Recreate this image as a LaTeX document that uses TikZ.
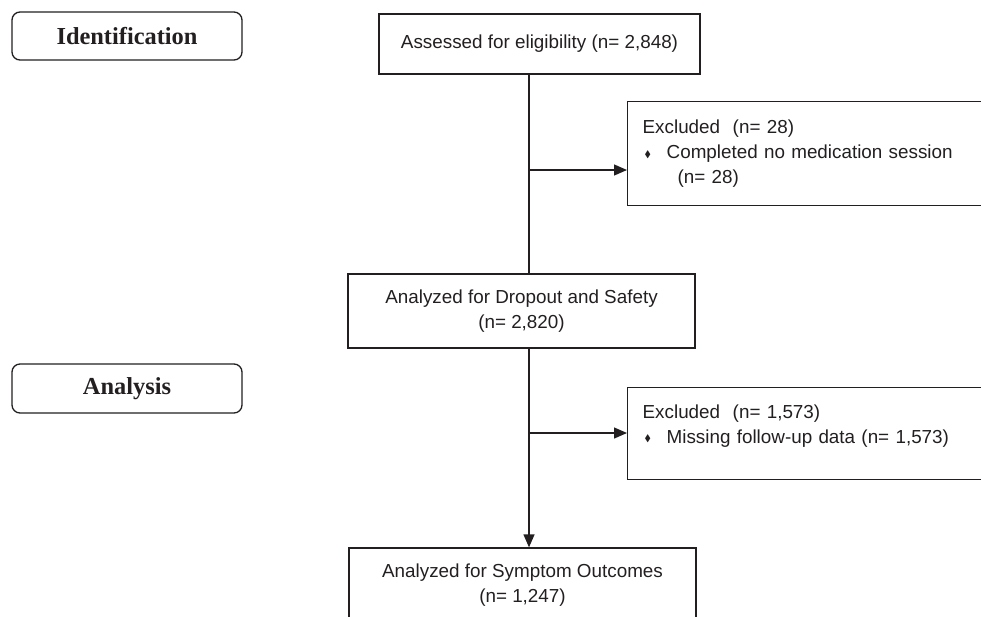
\documentclass[tikz,border=0pt]{standalone}
\usepackage{amsmath}
\usepackage{amssymb}
\usepackage{fontspec}
\setmainfont{Liberation Sans}
\newfontfamily\headfont{Liberation Serif}
\usetikzlibrary{arrows.meta}
\definecolor{ink}{RGB}{35,31,32}
\newcommand{\bul}{\makebox[24pt][l]{\hspace{2pt}\raisebox{1.5pt}{\fontsize{9.5}{9.5}\selectfont$\blacklozenge$}}}

\begin{document}
\begin{tikzpicture}[x=1pt,y=-1pt,ink,line width=1.3pt,
  stage/.style={draw,rounded corners=8pt,minimum width=230pt,minimum height=48pt,font=\headfont\bfseries\fontsize{24.4}{28}\selectfont},
  flow/.style={draw,minimum height=74pt,align=center,font=\fontsize{18.85}{25}\selectfont},
  side/.style={draw,anchor=north west,text width=353pt,inner xsep=15pt,align=left,font=\fontsize{18.85}{25}\selectfont},
  arr/.style={-{Triangle[length=13pt,width=11pt]}}]
\useasboundingbox (0,0) rectangle (981,616);
\clip (0,0) rectangle (981,616);

\node[stage] (Id) at (127,36) {Identification};
\node[stage,minimum height=49pt] (An) at (127,388.5) {Analysis};

\node[flow,minimum width=321pt,minimum height=60pt] (As) at (539.5,44) {Assessed for eligibility (n= 2,848)};
\node[side,minimum height=104pt] (Ex1) at (627,101) {Excluded\ \ (n= 28)\\ \bul Completed no medication session\\ \hspace*{35pt}(n= 28)};
\node[flow,minimum width=347pt] (Dr) at (521.5,311) {Analyzed for Dropout and Safety\\(n= 2,820)};
\node[side,minimum height=92pt,text depth=44pt] (Ex2) at (627,387) {Excluded\ \ (n= 1,573)\\ \bul Missing follow-up data (n= 1,573)};
\node[flow,minimum width=347pt] (Sy) at (522.5,585) {Analyzed for Symptom Outcomes\\(n= 1,247)};

\coordinate (sp1) at (529,170);
\coordinate (sp2) at (529,433);

\draw (As.south -| sp1) -- (Dr.north -| sp1);
\draw[arr] (sp1) -- (sp1 -| Ex1.west);
\draw[arr] (Dr.south -| sp2) -- (Sy.north -| sp2);
\draw[arr] (sp2) -- (sp2 -| Ex2.west);
\end{tikzpicture}
\end{document}
